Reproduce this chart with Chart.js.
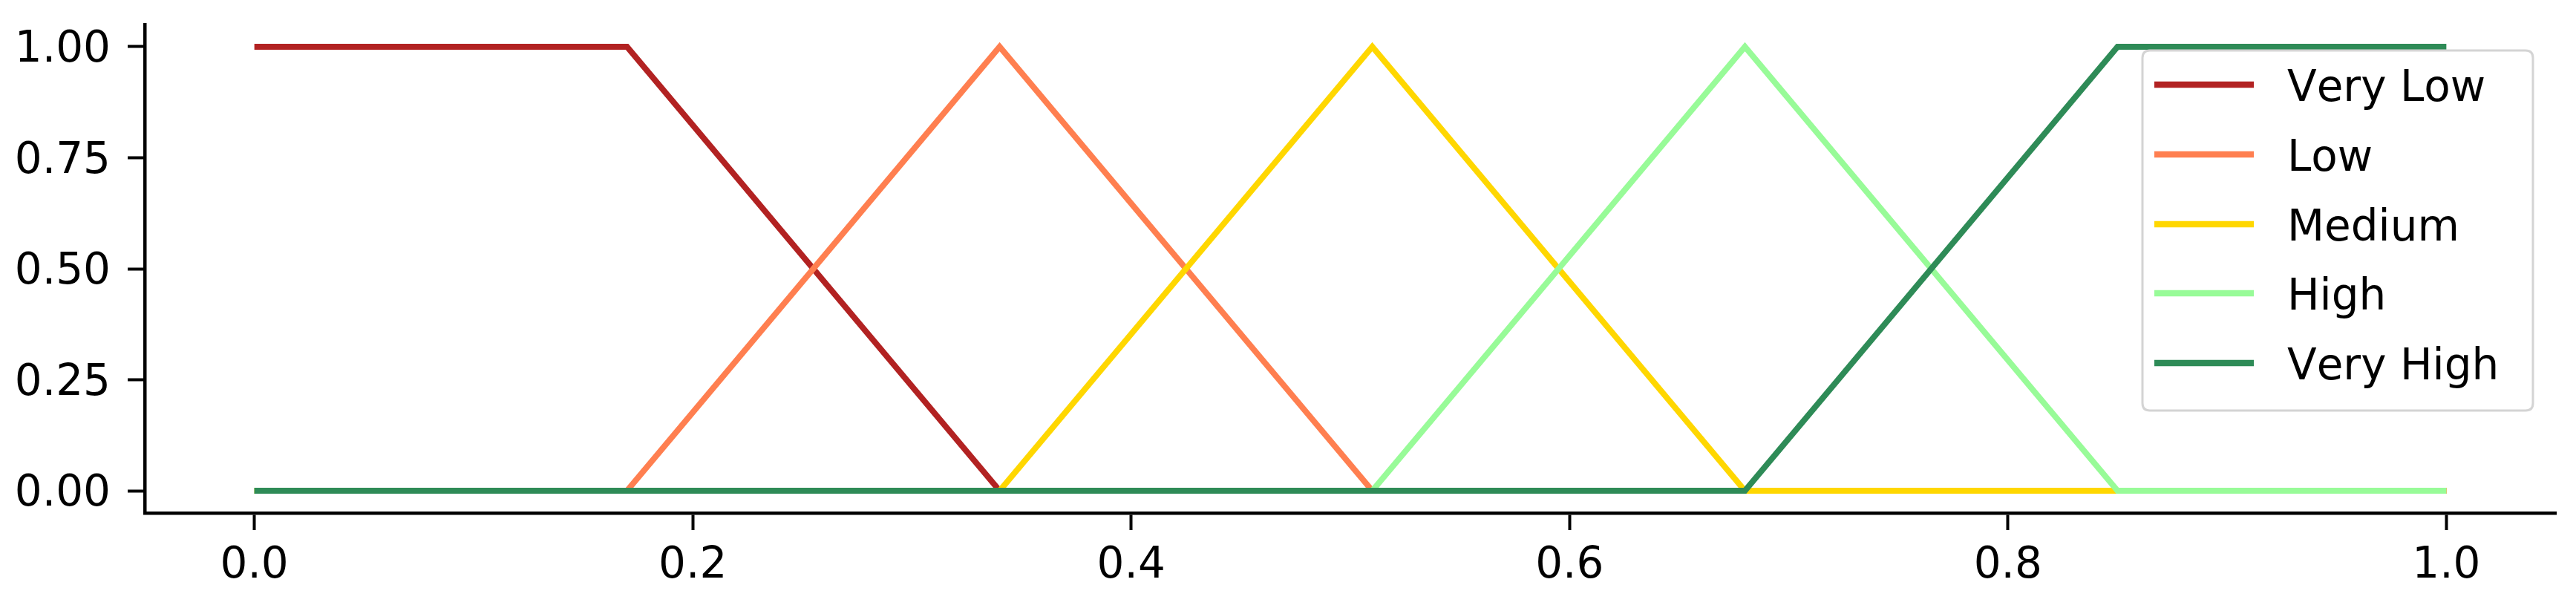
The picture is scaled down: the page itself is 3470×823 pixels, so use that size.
<!DOCTYPE html>
<html>
<head>
<meta charset="utf-8">
<script src="https://cdn.jsdelivr.net/npm/chart.js@4.4.1/dist/chart.umd.min.js"></script>
<style>
  html, body { margin: 0; padding: 0; background: #ffffff; }
  #wrap { width: 3470px; height: 823px; }
</style>
</head>
<body>
<div id="wrap"><canvas id="c" width="3470" height="823"></canvas></div>
<script>
// ---- data ----
const xValues   = [0, 0.17, 0.34, 0.51, 0.68, 0.85, 1.0];
const veryLow   = [1, 1, 0, 0, 0, 0, 0];
const low       = [0, 0, 1, 0, 0, 0, 0];
const medium    = [0, 0, 0, 1, 0, 0, 0];
const high      = [0, 0, 0, 0, 1, 0, 0];
const veryHigh  = [0, 0, 0, 0, 0, 1, 1];
const seriesNames  = ['Very Low', 'Low', 'Medium', 'High', 'Very High'];
const seriesColors = ['#B22222', '#FF7F50', '#FFD700', '#98FB98', '#2E8B57'];
const xTicks = [0, 0.2, 0.4, 0.6, 0.8, 1.0];
const yTicks = [0, 0.25, 0.5, 0.75, 1.0];

const allSeries = [veryLow, low, medium, high, veryHigh];
const FONT = "'DejaVu Sans', sans-serif";

const datasets = allSeries.map((vals, i) => ({
  label: seriesNames[i],
  data: xValues.map((x, j) => ({ x: x, y: vals[j] })),
  borderColor: seriesColors[i],
  backgroundColor: seriesColors[i],
  borderWidth: 8,
  pointRadius: 0,
  tension: 0,
  fill: false,
  order: allSeries.length - 1 - i
}));

const legendPlugin = {
  id: 'mplLegend',
  afterDatasetsDraw(chart) {
    const ctx = chart.ctx;
    const box = { l: 2886, t: 68, r: 3412, b: 553 };
    ctx.save();
    const rad = 10;
    ctx.beginPath();
    ctx.moveTo(box.l + rad, box.t);
    ctx.lineTo(box.r - rad, box.t);
    ctx.quadraticCurveTo(box.r, box.t, box.r, box.t + rad);
    ctx.lineTo(box.r, box.b - rad);
    ctx.quadraticCurveTo(box.r, box.b, box.r - rad, box.b);
    ctx.lineTo(box.l + rad, box.b);
    ctx.quadraticCurveTo(box.l, box.b, box.l, box.b - rad);
    ctx.lineTo(box.l, box.t + rad);
    ctx.quadraticCurveTo(box.l, box.t, box.l + rad, box.t);
    ctx.closePath();
    ctx.fillStyle = 'rgba(255,255,255,0.8)';
    ctx.fill();
    ctx.lineWidth = 3;
    ctx.strokeStyle = '#d4d4d4';
    ctx.stroke();
    const ys = [114, 208, 302, 395, 489];
    chart.data.datasets.forEach((ds, i) => {
      const y = ys[i];
      ctx.beginPath();
      ctx.moveTo(2902, y);
      ctx.lineTo(3036, y);
      ctx.lineWidth = 8.5;
      ctx.strokeStyle = ds.borderColor;
      ctx.stroke();
      ctx.fillStyle = '#000000';
      ctx.font = '58px ' + FONT;
      if ('fontKerning' in ctx) ctx.fontKerning = 'none';
      ctx.textBaseline = 'alphabetic';
      ctx.textAlign = 'left';
      ctx.fillText(ds.label, 3081, y + 22);
    });
    ctx.restore();
  }
};

new Chart(document.getElementById('c'), {
  type: 'line',
  data: { datasets: datasets },
  plugins: [legendPlugin],
  options: {
    responsive: false,
    animation: false,
    devicePixelRatio: 1,
    layout: { padding: { left: 0, right: 27, top: 33, bottom: 0 } },
    plugins: { legend: { display: false }, tooltip: { enabled: false } },
    scales: {
      x: {
        type: 'linear',
        min: -0.05,
        max: 1.05,
        afterBuildTicks: (s) => { s.ticks = xTicks.map(v => ({ value: v })); },
        afterFit: (s) => { s.height = 132; s.paddingLeft = 0; s.paddingRight = 0; },
        grid: { drawOnChartArea: false, tickLength: 23, tickWidth: 4, tickColor: '#000' },
        border: { display: true, color: '#000', width: 4.5 },
        ticks: {
          color: '#000',
          font: { family: FONT, size: 58 },
          padding: 14,
          maxRotation: 0,
          autoSkip: false,
          callback: (v) => Number(v).toFixed(1)
        }
      },
      y: {
        type: 'linear',
        min: -0.05,
        max: 1.05,
        afterBuildTicks: (s) => { s.ticks = yTicks.map(v => ({ value: v })); },
        afterFit: (s) => { s.width = 195; s.paddingTop = 0; s.paddingBottom = 0; },
        grid: { drawOnChartArea: false, tickLength: 23, tickWidth: 4, tickColor: '#000' },
        border: { display: true, color: '#000', width: 4.5 },
        ticks: {
          color: '#000',
          font: { family: FONT, size: 58 },
          padding: 23,
          labelOffset: 5,
          autoSkip: false,
          callback: (v) => Number(v).toFixed(2)
        }
      }
    }
  }
});
</script>
</body>
</html>
